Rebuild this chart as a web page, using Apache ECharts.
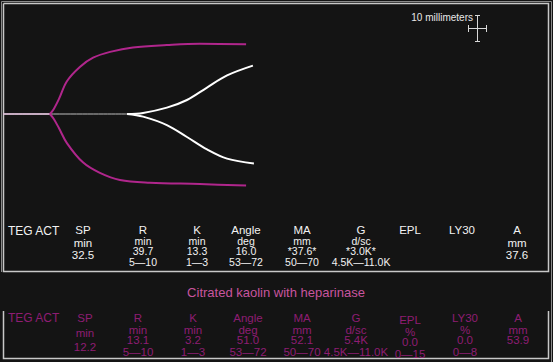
<!DOCTYPE html>
<html>
<head>
<meta charset="utf-8">
<script src="https://cdn.jsdelivr.net/npm/echarts@6/dist/echarts.min.js"></script>
<style>
html,body{margin:0;padding:0;background:#141414;}
#chart{width:553px;height:362px;}
</style>
</head>
<body>
<div id="chart"></div>
<script>
// ---- Data (time in minutes, amplitude in mm) ----
const whiteBaseline = [[0, 0], [36.5, 0]];
const magentaBaseline = [[0, 0], [13.8, 0]];
const magentaUpper = [[13.8, 0], [14.9, 1.8], [16.5, 5.8], [18.8, 12.4], [22.6, 17.8], [26.5, 21.3], [31.5, 23.5], [38.2, 25.2], [48.2, 26.1], [57.9, 26.6], [71.5, 26.4]];
const magentaLower = [[13.8, 0], [14.9, -1.8], [16.4, -5.2], [18.8, -11.0], [23.5, -18.3], [28.5, -22.3], [34.4, -25.0], [43.2, -26.0], [57.9, -26.5], [71.5, -27.1]];
const whiteUpper = [[36.5, 0], [41.2, 0.4], [48.2, 2.4], [54.1, 5.3], [60.0, 10.0], [65.9, 14.6], [73.5, 18.3]];
const whiteLower = [[36.5, 0], [41.2, -1.0], [48.2, -4.2], [54.1, -8.7], [60.0, -13.4], [65.9, -16.9], [73.8, -18.7]];

const tableLabel = 'TEG ACT';
const paramNames = ['SP', 'R', 'K', 'Angle', 'MA', 'G', 'EPL', 'LY30', 'A'];
const topUnits = ['min', 'min', 'min', 'deg', 'mm', 'd/sc', '', '', 'mm'];
const topValues = ['32.5', '39.7', '13.3', '16.0', '*37.6*', '*3.0K*', '', '', '37.6'];
const topRanges = ['', '5\u201410', '1\u20143', '53\u201472', '50\u201470', '4.5K\u201411.0K', '', '', ''];
const bottomTitle = 'Citrated kaolin with heparinase';
const bottomUnits = ['min', 'min', 'min', 'deg', 'mm', 'd/sc', '%', '%', 'mm'];
const bottomValues = ['12.2', '13.1', '3.2', '51.0', '52.1', '5.4K', '0.0', '0.0', '53.9'];
const bottomRanges = ['', '5\u201410', '1\u20143', '53\u201472', '50\u201470', '4.5K\u201411.0K', '0\u201415', '0\u20148', ''];
const scaleLabel = '10 millimeters';

// ---- Layout ----
const FONT = '"Liberation Sans", Arial, Helvetica, sans-serif';
const MAGENTA = '#b0268c';
const TXT_MAG = '#8e1d73';
const FS = 11.5;
const FS_TIGHT = 10.5;
const topColX = [83, 143, 197, 246, 302, 361, 410, 462, 517];
const botColX = [85, 138, 193, 248, 302, 356, 410, 465, 518];

const graphics = [];
function txt(s, x, y, color, size, align) {
  if (!s) return;
  graphics.push({
    type: 'text', x: x, y: y, silent: true,
    style: {
      text: s, fill: color, font: size + 'px ' + FONT, lineHeight: size,
      align: align || 'center', verticalAlign: 'middle',
      textAlign: align || 'center', textVerticalAlign: 'middle'
    }
  });
}
function poly(points, color, w) {
  graphics.push({
    type: 'polyline', silent: true,
    shape: { points: points },
    style: { stroke: color, lineWidth: w, fill: null }
  });
}

// frames
poly([[1.5, 272], [1.5, 1.5], [551.5, 1.5], [551.5, 362]], '#8a8a8a', 1);
poly([[3.5, 3.5], [548.5, 3.5], [548.5, 271.5], [3.5, 271.5], [3.5, 3.5]], '#c8c8c8', 1.5);
poly([[3.5, 311], [3.5, 358.5], [548.5, 358.5], [548.5, 311]], '#c8c8c8', 1.5);

// scale crosshair
txt(scaleLabel, 473, 17, '#e8e8e8', 10, 'right');
poly([[468, 28.5], [487, 28.5]], '#d8d8d8', 1);
poly([[468.5, 25], [468.5, 32]], '#d8d8d8', 1);
poly([[486.5, 25], [486.5, 32]], '#d8d8d8', 1);
poly([[477.5, 15], [477.5, 41]], '#d8d8d8', 1);
poly([[475, 15.5], [480, 15.5]], '#d8d8d8', 1);
poly([[475, 41.5], [480, 41.5]], '#d8d8d8', 1);

// top table
txt(tableLabel, 8, 230.5, '#f2f2f2', 12, 'left');
paramNames.forEach(function (n, i) {
  const x = topColX[i];
  if (topRanges[i]) {
    txt(n, x, 229.5, '#f2f2f2', FS);
    txt(topUnits[i], x, 240.5, '#f2f2f2', FS_TIGHT);
    txt(topValues[i], x, 251, '#f2f2f2', FS_TIGHT);
    txt(topRanges[i], x, 261.5, '#f2f2f2', FS_TIGHT);
  } else {
    txt(n, x, 230, '#f2f2f2', FS);
    txt(topUnits[i], x, 243, '#f2f2f2', FS);
    txt(topValues[i], x, 255, '#f2f2f2', FS);
  }
});

// bottom title + table
txt(bottomTitle, 276, 292, '#c8559f', 13);
txt(tableLabel, 8, 318, TXT_MAG, 12, 'left');
paramNames.forEach(function (n, i) {
  const x = botColX[i];
  let rows;
  if (!bottomRanges[i] && i === 0) rows = [318, 333, 347];
  else rows = [317.5, 329.5, 340, 351.5];
  if (n === 'EPL') rows = rows.map(function (v) { return v + 2; });
  txt(n, x, rows[0], TXT_MAG, FS);
  txt(bottomUnits[i], x, rows[1], TXT_MAG, FS);
  txt(bottomValues[i], x, rows[2], TXT_MAG, FS);
  if (bottomRanges[i]) txt(bottomRanges[i], x, rows[3], TXT_MAG, FS);
});

const chart = echarts.init(document.getElementById('chart'), null, { renderer: 'svg' });
function lineSeries(data, color, width) {
  return {
    type: 'line', data: data, symbol: 'none', smooth: 0.35,
    lineStyle: { color: color, width: width }, silent: true, z: 3
  };
}
chart.setOption({
  backgroundColor: '#141414',
  animation: false,
  grid: { left: 3, top: 3, width: 544, height: 222 },
  xAxis: { type: 'value', min: 0, max: 160, show: false },
  yAxis: { type: 'value', min: -42, max: 42, show: false },
  series: [
    lineSeries(whiteBaseline, '#bdbdbd', 1),
    lineSeries(magentaBaseline, '#e6c3df', 1.5),
    lineSeries(magentaUpper, MAGENTA, 2),
    lineSeries(magentaLower, MAGENTA, 2),
    lineSeries(whiteUpper, '#ffffff', 2),
    lineSeries(whiteLower, '#ffffff', 2)
  ],
  graphic: graphics
});
</script>
</body>
</html>
